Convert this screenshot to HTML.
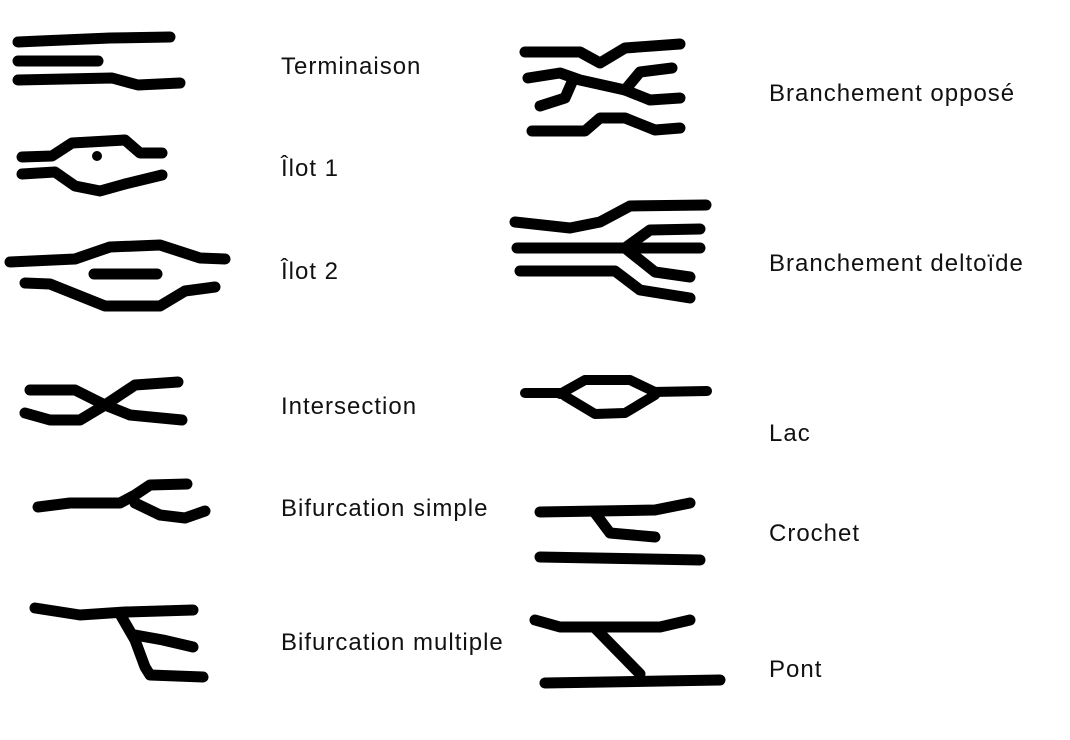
<!DOCTYPE html>
<html><head><meta charset="utf-8"><style>
html,body{margin:0;padding:0;background:#fff;}
body{width:1070px;height:740px;position:relative;overflow:hidden;}
svg{position:absolute;left:0;top:0;}
.t{position:absolute;font-family:"Liberation Sans",sans-serif;font-size:24px;letter-spacing:1px;color:#111;white-space:nowrap;}
</style></head><body>
<svg width="1070" height="740" viewBox="0 0 1070 740" fill="none" stroke="#000" stroke-width="11" stroke-linecap="round" stroke-linejoin="round">
<path d="M18 42 L40 41 L110 38 L170 37"/>
<path d="M18 61 L98 61"/>
<path d="M18 80 L112 78 L138 85 L180 83"/>
<path d="M22 157 L52 156 L72 143 L125 140 L140 153 L162 153"/>
<path d="M22 174 L55 172 L75 186 L100 191 L125 184 L162 175"/>
<circle cx="97" cy="156" r="5" fill="#000" stroke="none"/>
<path d="M10 262 L75 259 L110 247 L160 245 L200 258 L225 259"/>
<path d="M94 274 L157 274"/>
<path d="M25 283 L50 284 L80 296 L105 306 L160 306 L185 291 L215 287"/>
<path d="M30 390 L75 390 L105 405 L135 385 L178 382"/>
<path d="M25 413 L50 420 L80 420 L105 405 L130 415 L182 420"/>
<path d="M38 507 L70 503 L120 503 L135 495 L150 485 L187 484"/>
<path d="M135 503 L160 515 L185 518 L205 511"/>
<path d="M35 608 L80 615 L125 612 L193 610"/>
<path d="M120 614 L135 640 L145 667 L150 675 L203 677"/>
<path d="M135 635 L163 640 L193 647"/>
<path d="M525 52 L580 52 L600 63 L625 48 L680 44"/>
<path d="M528 78 L560 73 L580 80 L625 90 L650 100 L680 98"/>
<path d="M625 90 L640 72 L672 68"/>
<path d="M572 82 L565 98 L540 106"/>
<path d="M532 131 L585 131 L600 118 L625 118 L655 130 L680 128"/>
<path d="M515 222 L570 228 L600 222 L630 206 L706 205"/>
<path d="M517 248 L700 248"/>
<path d="M625 248 L650 230 L700 229"/>
<path d="M625 248 L655 272 L690 277"/>
<path d="M520 271 L615 271 L640 290 L690 298"/>
<g stroke-width="10">
<path d="M525 393 L565 393 M652 392 L707 391"/>
<path d="M560 394 L585 380 L630 380 L657 393"/>
<path d="M565 396 L595 414 L625 413 L655 395"/>
</g>
<path d="M540 512 L655 510 L690 503"/>
<path d="M595 513 L610 533 L655 537"/>
<path d="M540 557 L700 560"/>
<path d="M535 620 L560 627 L660 627 L690 620"/>
<path d="M595 628 L640 674"/>
<path d="M545 683 L720 680"/>
</svg>
<div class="t" style="left:281px;top:53px">Terminaison</div>
<div class="t" style="left:281px;top:155px">Îlot 1</div>
<div class="t" style="left:281px;top:258px">Îlot 2</div>
<div class="t" style="left:281px;top:393px">Intersection</div>
<div class="t" style="left:281px;top:495px">Bifurcation simple</div>
<div class="t" style="left:281px;top:629px">Bifurcation multiple</div>
<div class="t" style="left:769px;top:80px">Branchement opposé</div>
<div class="t" style="left:769px;top:250px">Branchement deltoïde</div>
<div class="t" style="left:769px;top:420px">Lac</div>
<div class="t" style="left:769px;top:520px">Crochet</div>
<div class="t" style="left:769px;top:656px">Pont</div>
</body></html>
